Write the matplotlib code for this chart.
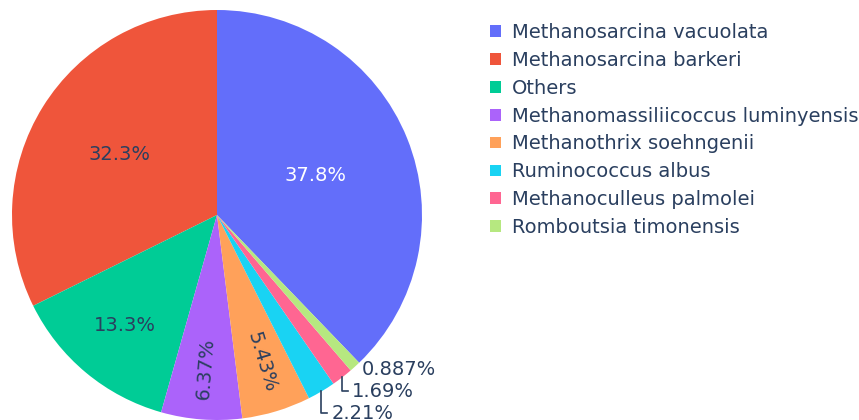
import matplotlib
matplotlib.use('Agg')
import matplotlib.pyplot as plt
import numpy as np

# Data
species = ['Methanosarcina vacuolata', 'Methanosarcina barkeri', 'Others',
           'Methanomassiliicoccus luminyensis', 'Methanothrix soehngenii',
           'Ruminococcus albus', 'Methanoculleus palmolei', 'Romboutsia timonensis']
shares = [37.8, 32.3, 13.3, 6.37, 5.43, 2.21, 1.69, 0.887]
share_labels = ['37.8%', '32.3%', '13.3%', '6.37%', '5.43%', '2.21%', '1.69%', '0.887%']
colors = ['#636efa', '#ef553b', '#00cc96', '#ab63fa', '#ffa15a', '#19d3f3', '#ff6692', '#b6e880']

W, H = 859, 420
cx, cy, R = 217, 215, 205          # pie centre / radius in pixels
TEXT = '#2a3f5f'
FS = 14

fig = plt.figure(figsize=(W / 100, H / 100), dpi=100)
ax = fig.add_axes([0, 0, 1, 1])

frac = np.array(shares) / np.sum(shares)
start = 90 - frac[0] * 360
wedges, _ = ax.pie(shares, colors=colors, startangle=start, counterclock=True,
                   radius=1, center=(0, 0), frame=True)
ax.set_xlim(-cx / R, (W - cx) / R)
ax.set_ylim(-(H - cy) / R, cy / R)
ax.set_aspect('equal')
ax.axis('off')

# inside labels: (radius, radial?, colour)
inside = {0: (0.52, 0, 'white'), 1: (0.56, 0, TEXT), 2: (0.70, 0, TEXT),
          3: (0.75, 1, TEXT), 4: (0.75, 1, TEXT)}
for i, w in enumerate(wedges):
    mid = np.deg2rad((w.theta1 + w.theta2) / 2)
    if i in inside:
        r, radial, col = inside[i]
        rot = 0
        if radial:
            rot = np.rad2deg(mid) % 360 - 360
            if rot < -90:
                rot += 180
        ax.text(r * np.cos(mid), r * np.sin(mid), share_labels[i], color=col,
                fontsize=FS, ha='center', va='center', rotation=rot,
                rotation_mode='anchor')

# outside labels with elbow connectors
drops = {5: 22, 6: 14, 7: 3}
gaps = {5: 10, 6: 10, 7: 7}
for i in (5, 6, 7):
    w = wedges[i]
    mid = np.deg2rad((w.theta1 + w.theta2) / 2)
    ex, ey = np.cos(mid), np.sin(mid)
    ty = ey - drops[i] / R
    tx = ex + gaps[i] / R
    if i != 7:
        ax.plot([ex, ex, ex + 6 / R], [ey, ty, ty], color=TEXT, lw=1.2)
    ax.text(tx, ty, share_labels[i], color=TEXT, fontsize=FS,
            ha='left', va='center')

leg = ax.legend(wedges, species, loc='upper left',
                bbox_to_anchor=(490 / W, 1 - 23 / H), bbox_transform=fig.transFigure,
                frameon=False, fontsize=FS, handlelength=0.55, handleheight=0.55,
                handletextpad=0.6, labelspacing=0.455, borderaxespad=0, borderpad=0)
for t in leg.get_texts():
    t.set_color(TEXT)

fig.savefig('out.png', dpi=100)
